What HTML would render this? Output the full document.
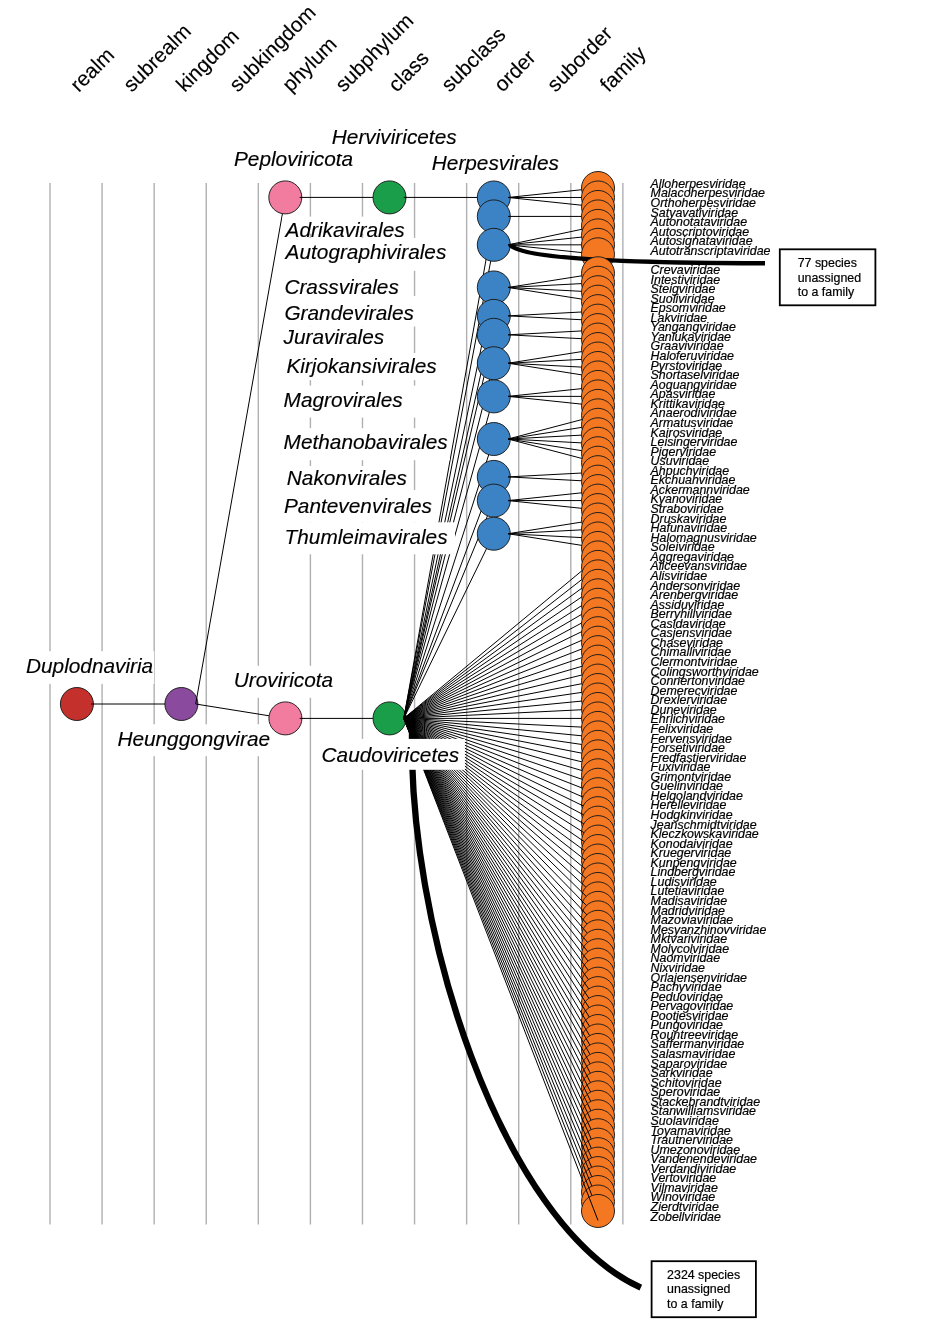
<!DOCTYPE html>
<html lang="en">
<head>
<meta charset="utf-8">
<title>Duplodnaviria taxonomy</title>
<style>
html,body{margin:0;padding:0;background:#fff;}
body{width:930px;height:1342px;overflow:hidden;}
svg{display:block;font-family:"Liberation Sans",Arial,Helvetica,sans-serif;}
</style>
</head>
<body>
<svg width="930" height="1342" viewBox="0 0 930 1342">
<rect width="930" height="1342" fill="#fff"/>
<g stroke="#b0b0b2" stroke-width="1.4">
<line x1="50" y1="183.1" x2="50" y2="1224.6"/>
<line x1="102.08" y1="183.1" x2="102.08" y2="1224.6"/>
<line x1="154.16" y1="183.1" x2="154.16" y2="1224.6"/>
<line x1="206.24" y1="183.1" x2="206.24" y2="1224.6"/>
<line x1="258.32" y1="183.1" x2="258.32" y2="1224.6"/>
<line x1="310.4" y1="183.1" x2="310.4" y2="1224.6"/>
<line x1="362.48" y1="183.1" x2="362.48" y2="1224.6"/>
<line x1="414.56" y1="183.1" x2="414.56" y2="1224.6"/>
<line x1="466.64" y1="183.1" x2="466.64" y2="1224.6"/>
<line x1="518.72" y1="183.1" x2="518.72" y2="1224.6"/>
<line x1="570.8" y1="183.1" x2="570.8" y2="1224.6"/>
<line x1="622.88" y1="183.1" x2="622.88" y2="1224.6"/>
</g>
<g font-size="20.8" fill="#000" stroke="#000" stroke-width="0.15">
<text transform="translate(78.7 93) rotate(-45)">realm</text>
<text transform="translate(131.69 93) rotate(-45)">subrealm</text>
<text transform="translate(184.68 93) rotate(-45)">kingdom</text>
<text transform="translate(237.67 93) rotate(-45)">subkingdom</text>
<text transform="translate(290.66 93) rotate(-45)">phylum</text>
<text transform="translate(343.65 93) rotate(-45)">subphylum</text>
<text transform="translate(396.64 93) rotate(-45)">class</text>
<text transform="translate(449.63 93) rotate(-45)">subclass</text>
<text transform="translate(502.62 93) rotate(-45)">order</text>
<text transform="translate(555.61 93) rotate(-45)">suborder</text>
<text transform="translate(608.6 93) rotate(-45)">family</text>
</g>
<g id="tree">
<circle cx="76.9" cy="704" r="16.5" fill="#c4302b" stroke="#1a1a1a" stroke-width="0.95"/>
<line x1="91.2" y1="704" x2="181.4" y2="704" stroke="#000" stroke-width="1"/>
<circle cx="181.4" cy="704" r="16.5" fill="#8a4a9e" stroke="#1a1a1a" stroke-width="0.95"/>
<line x1="195.7" y1="704" x2="285.3" y2="197.4" stroke="#000" stroke-width="1"/>
<circle cx="285.3" cy="197.4" r="16.5" fill="#f17ca0" stroke="#1a1a1a" stroke-width="0.95"/>
<line x1="299.6" y1="197.4" x2="389.5" y2="197.4" stroke="#000" stroke-width="1"/>
<circle cx="389.5" cy="197.4" r="16.5" fill="#1a9e49" stroke="#1a1a1a" stroke-width="0.95"/>
<line x1="403.8" y1="197.4" x2="493.8" y2="197.47" stroke="#000" stroke-width="1"/>
<circle cx="493.8" cy="197.47" r="16.5" fill="#3b83c4" stroke="#1a1a1a" stroke-width="0.95"/>
<line x1="508.1" y1="197.47" x2="598" y2="188" stroke="#000" stroke-width="1"/>
<circle cx="598" cy="188" r="16.5" fill="#f47721" stroke="#1a1a1a" stroke-width="0.95"/>
<line x1="508.1" y1="197.47" x2="598" y2="197.47" stroke="#000" stroke-width="1"/>
<circle cx="598" cy="197.47" r="16.5" fill="#f47721" stroke="#1a1a1a" stroke-width="0.95"/>
<line x1="508.1" y1="197.47" x2="598" y2="206.94" stroke="#000" stroke-width="1"/>
<circle cx="598" cy="206.94" r="16.5" fill="#f47721" stroke="#1a1a1a" stroke-width="0.95"/>
<line x1="195.7" y1="704" x2="285.4" y2="718.4" stroke="#000" stroke-width="1"/>
<circle cx="285.4" cy="718.4" r="16.5" fill="#f17ca0" stroke="#1a1a1a" stroke-width="0.95"/>
<line x1="299.7" y1="718.4" x2="389.5" y2="718.4" stroke="#000" stroke-width="1"/>
<circle cx="389.5" cy="718.4" r="16.5" fill="#1a9e49" stroke="#1a1a1a" stroke-width="0.95"/>
<line x1="403.8" y1="718.4" x2="493.8" y2="216.42" stroke="#000" stroke-width="1"/>
<circle cx="493.8" cy="216.42" r="16.5" fill="#3b83c4" stroke="#1a1a1a" stroke-width="0.95"/>
<line x1="508.1" y1="216.42" x2="598" y2="216.42" stroke="#000" stroke-width="1"/>
<circle cx="598" cy="216.42" r="16.5" fill="#f47721" stroke="#1a1a1a" stroke-width="0.95"/>
<line x1="403.8" y1="718.4" x2="493.8" y2="244.83" stroke="#000" stroke-width="1"/>
<circle cx="493.8" cy="244.83" r="16.5" fill="#3b83c4" stroke="#1a1a1a" stroke-width="0.95"/>
<line x1="508.1" y1="244.83" x2="598" y2="225.89" stroke="#000" stroke-width="1"/>
<circle cx="598" cy="225.89" r="16.5" fill="#f47721" stroke="#1a1a1a" stroke-width="0.95"/>
<line x1="508.1" y1="244.83" x2="598" y2="235.36" stroke="#000" stroke-width="1"/>
<circle cx="598" cy="235.36" r="16.5" fill="#f47721" stroke="#1a1a1a" stroke-width="0.95"/>
<line x1="508.1" y1="244.83" x2="598" y2="244.83" stroke="#000" stroke-width="1"/>
<circle cx="598" cy="244.83" r="16.5" fill="#f47721" stroke="#1a1a1a" stroke-width="0.95"/>
<line x1="508.1" y1="244.83" x2="598" y2="254.3" stroke="#000" stroke-width="1"/>
<circle cx="598" cy="254.3" r="16.5" fill="#f47721" stroke="#1a1a1a" stroke-width="0.95"/>
<path d="M510.3 244.83 Q524.3 263.2 765 263.2" fill="none" stroke="#000" stroke-width="4.5"/>
<line x1="403.8" y1="718.4" x2="493.8" y2="287.46" stroke="#000" stroke-width="1"/>
<circle cx="493.8" cy="287.46" r="16.5" fill="#3b83c4" stroke="#1a1a1a" stroke-width="0.95"/>
<line x1="508.1" y1="287.46" x2="598" y2="273.25" stroke="#000" stroke-width="1"/>
<circle cx="598" cy="273.25" r="16.5" fill="#f47721" stroke="#1a1a1a" stroke-width="0.95"/>
<line x1="508.1" y1="287.46" x2="598" y2="282.72" stroke="#000" stroke-width="1"/>
<circle cx="598" cy="282.72" r="16.5" fill="#f47721" stroke="#1a1a1a" stroke-width="0.95"/>
<line x1="508.1" y1="287.46" x2="598" y2="292.19" stroke="#000" stroke-width="1"/>
<circle cx="598" cy="292.19" r="16.5" fill="#f47721" stroke="#1a1a1a" stroke-width="0.95"/>
<line x1="508.1" y1="287.46" x2="598" y2="301.66" stroke="#000" stroke-width="1"/>
<circle cx="598" cy="301.66" r="16.5" fill="#f47721" stroke="#1a1a1a" stroke-width="0.95"/>
<line x1="403.8" y1="718.4" x2="493.8" y2="315.87" stroke="#000" stroke-width="1"/>
<circle cx="493.8" cy="315.87" r="16.5" fill="#3b83c4" stroke="#1a1a1a" stroke-width="0.95"/>
<line x1="508.1" y1="315.87" x2="598" y2="311.14" stroke="#000" stroke-width="1"/>
<circle cx="598" cy="311.14" r="16.5" fill="#f47721" stroke="#1a1a1a" stroke-width="0.95"/>
<line x1="508.1" y1="315.87" x2="598" y2="320.61" stroke="#000" stroke-width="1"/>
<circle cx="598" cy="320.61" r="16.5" fill="#f47721" stroke="#1a1a1a" stroke-width="0.95"/>
<line x1="403.8" y1="718.4" x2="493.8" y2="334.82" stroke="#000" stroke-width="1"/>
<circle cx="493.8" cy="334.82" r="16.5" fill="#3b83c4" stroke="#1a1a1a" stroke-width="0.95"/>
<line x1="508.1" y1="334.82" x2="598" y2="330.08" stroke="#000" stroke-width="1"/>
<circle cx="598" cy="330.08" r="16.5" fill="#f47721" stroke="#1a1a1a" stroke-width="0.95"/>
<line x1="508.1" y1="334.82" x2="598" y2="339.55" stroke="#000" stroke-width="1"/>
<circle cx="598" cy="339.55" r="16.5" fill="#f47721" stroke="#1a1a1a" stroke-width="0.95"/>
<line x1="403.8" y1="718.4" x2="493.8" y2="363.23" stroke="#000" stroke-width="1"/>
<circle cx="493.8" cy="363.23" r="16.5" fill="#3b83c4" stroke="#1a1a1a" stroke-width="0.95"/>
<line x1="508.1" y1="363.23" x2="598" y2="349.02" stroke="#000" stroke-width="1"/>
<circle cx="598" cy="349.02" r="16.5" fill="#f47721" stroke="#1a1a1a" stroke-width="0.95"/>
<line x1="508.1" y1="363.23" x2="598" y2="358.5" stroke="#000" stroke-width="1"/>
<circle cx="598" cy="358.5" r="16.5" fill="#f47721" stroke="#1a1a1a" stroke-width="0.95"/>
<line x1="508.1" y1="363.23" x2="598" y2="367.97" stroke="#000" stroke-width="1"/>
<circle cx="598" cy="367.97" r="16.5" fill="#f47721" stroke="#1a1a1a" stroke-width="0.95"/>
<line x1="508.1" y1="363.23" x2="598" y2="377.44" stroke="#000" stroke-width="1"/>
<circle cx="598" cy="377.44" r="16.5" fill="#f47721" stroke="#1a1a1a" stroke-width="0.95"/>
<line x1="403.8" y1="718.4" x2="493.8" y2="396.38" stroke="#000" stroke-width="1"/>
<circle cx="493.8" cy="396.38" r="16.5" fill="#3b83c4" stroke="#1a1a1a" stroke-width="0.95"/>
<line x1="508.1" y1="396.38" x2="598" y2="386.91" stroke="#000" stroke-width="1"/>
<circle cx="598" cy="386.91" r="16.5" fill="#f47721" stroke="#1a1a1a" stroke-width="0.95"/>
<line x1="508.1" y1="396.38" x2="598" y2="396.38" stroke="#000" stroke-width="1"/>
<circle cx="598" cy="396.38" r="16.5" fill="#f47721" stroke="#1a1a1a" stroke-width="0.95"/>
<line x1="508.1" y1="396.38" x2="598" y2="405.86" stroke="#000" stroke-width="1"/>
<circle cx="598" cy="405.86" r="16.5" fill="#f47721" stroke="#1a1a1a" stroke-width="0.95"/>
<line x1="403.8" y1="718.4" x2="493.8" y2="439.01" stroke="#000" stroke-width="1"/>
<circle cx="493.8" cy="439.01" r="16.5" fill="#3b83c4" stroke="#1a1a1a" stroke-width="0.95"/>
<line x1="508.1" y1="439.01" x2="598" y2="415.33" stroke="#000" stroke-width="1"/>
<circle cx="598" cy="415.33" r="16.5" fill="#f47721" stroke="#1a1a1a" stroke-width="0.95"/>
<line x1="508.1" y1="439.01" x2="598" y2="424.8" stroke="#000" stroke-width="1"/>
<circle cx="598" cy="424.8" r="16.5" fill="#f47721" stroke="#1a1a1a" stroke-width="0.95"/>
<line x1="508.1" y1="439.01" x2="598" y2="434.27" stroke="#000" stroke-width="1"/>
<circle cx="598" cy="434.27" r="16.5" fill="#f47721" stroke="#1a1a1a" stroke-width="0.95"/>
<line x1="508.1" y1="439.01" x2="598" y2="443.74" stroke="#000" stroke-width="1"/>
<circle cx="598" cy="443.74" r="16.5" fill="#f47721" stroke="#1a1a1a" stroke-width="0.95"/>
<line x1="508.1" y1="439.01" x2="598" y2="453.22" stroke="#000" stroke-width="1"/>
<circle cx="598" cy="453.22" r="16.5" fill="#f47721" stroke="#1a1a1a" stroke-width="0.95"/>
<line x1="508.1" y1="439.01" x2="598" y2="462.69" stroke="#000" stroke-width="1"/>
<circle cx="598" cy="462.69" r="16.5" fill="#f47721" stroke="#1a1a1a" stroke-width="0.95"/>
<line x1="403.8" y1="718.4" x2="493.8" y2="476.9" stroke="#000" stroke-width="1"/>
<circle cx="493.8" cy="476.9" r="16.5" fill="#3b83c4" stroke="#1a1a1a" stroke-width="0.95"/>
<line x1="508.1" y1="476.9" x2="598" y2="472.16" stroke="#000" stroke-width="1"/>
<circle cx="598" cy="472.16" r="16.5" fill="#f47721" stroke="#1a1a1a" stroke-width="0.95"/>
<line x1="508.1" y1="476.9" x2="598" y2="481.63" stroke="#000" stroke-width="1"/>
<circle cx="598" cy="481.63" r="16.5" fill="#f47721" stroke="#1a1a1a" stroke-width="0.95"/>
<line x1="403.8" y1="718.4" x2="493.8" y2="500.58" stroke="#000" stroke-width="1"/>
<circle cx="493.8" cy="500.58" r="16.5" fill="#3b83c4" stroke="#1a1a1a" stroke-width="0.95"/>
<line x1="508.1" y1="500.58" x2="598" y2="491.1" stroke="#000" stroke-width="1"/>
<circle cx="598" cy="491.1" r="16.5" fill="#f47721" stroke="#1a1a1a" stroke-width="0.95"/>
<line x1="508.1" y1="500.58" x2="598" y2="500.58" stroke="#000" stroke-width="1"/>
<circle cx="598" cy="500.58" r="16.5" fill="#f47721" stroke="#1a1a1a" stroke-width="0.95"/>
<line x1="508.1" y1="500.58" x2="598" y2="510.05" stroke="#000" stroke-width="1"/>
<circle cx="598" cy="510.05" r="16.5" fill="#f47721" stroke="#1a1a1a" stroke-width="0.95"/>
<line x1="403.8" y1="718.4" x2="493.8" y2="533.73" stroke="#000" stroke-width="1"/>
<circle cx="493.8" cy="533.73" r="16.5" fill="#3b83c4" stroke="#1a1a1a" stroke-width="0.95"/>
<line x1="508.1" y1="533.73" x2="598" y2="519.52" stroke="#000" stroke-width="1"/>
<circle cx="598" cy="519.52" r="16.5" fill="#f47721" stroke="#1a1a1a" stroke-width="0.95"/>
<line x1="508.1" y1="533.73" x2="598" y2="528.99" stroke="#000" stroke-width="1"/>
<circle cx="598" cy="528.99" r="16.5" fill="#f47721" stroke="#1a1a1a" stroke-width="0.95"/>
<line x1="508.1" y1="533.73" x2="598" y2="538.46" stroke="#000" stroke-width="1"/>
<circle cx="598" cy="538.46" r="16.5" fill="#f47721" stroke="#1a1a1a" stroke-width="0.95"/>
<line x1="508.1" y1="533.73" x2="598" y2="547.94" stroke="#000" stroke-width="1"/>
<circle cx="598" cy="547.94" r="16.5" fill="#f47721" stroke="#1a1a1a" stroke-width="0.95"/>
<line x1="403.8" y1="718.4" x2="598" y2="557.41" stroke="#000" stroke-width="1"/>
<circle cx="598" cy="557.41" r="16.5" fill="#f47721" stroke="#1a1a1a" stroke-width="0.95"/>
<line x1="403.8" y1="718.4" x2="598" y2="566.88" stroke="#000" stroke-width="1"/>
<circle cx="598" cy="566.88" r="16.5" fill="#f47721" stroke="#1a1a1a" stroke-width="0.95"/>
<line x1="403.8" y1="718.4" x2="598" y2="576.35" stroke="#000" stroke-width="1"/>
<circle cx="598" cy="576.35" r="16.5" fill="#f47721" stroke="#1a1a1a" stroke-width="0.95"/>
<line x1="403.8" y1="718.4" x2="598" y2="585.82" stroke="#000" stroke-width="1"/>
<circle cx="598" cy="585.82" r="16.5" fill="#f47721" stroke="#1a1a1a" stroke-width="0.95"/>
<line x1="403.8" y1="718.4" x2="598" y2="595.3" stroke="#000" stroke-width="1"/>
<circle cx="598" cy="595.3" r="16.5" fill="#f47721" stroke="#1a1a1a" stroke-width="0.95"/>
<line x1="403.8" y1="718.4" x2="598" y2="604.77" stroke="#000" stroke-width="1"/>
<circle cx="598" cy="604.77" r="16.5" fill="#f47721" stroke="#1a1a1a" stroke-width="0.95"/>
<line x1="403.8" y1="718.4" x2="598" y2="614.24" stroke="#000" stroke-width="1"/>
<circle cx="598" cy="614.24" r="16.5" fill="#f47721" stroke="#1a1a1a" stroke-width="0.95"/>
<line x1="403.8" y1="718.4" x2="598" y2="623.71" stroke="#000" stroke-width="1"/>
<circle cx="598" cy="623.71" r="16.5" fill="#f47721" stroke="#1a1a1a" stroke-width="0.95"/>
<line x1="403.8" y1="718.4" x2="598" y2="633.18" stroke="#000" stroke-width="1"/>
<circle cx="598" cy="633.18" r="16.5" fill="#f47721" stroke="#1a1a1a" stroke-width="0.95"/>
<line x1="403.8" y1="718.4" x2="598" y2="642.66" stroke="#000" stroke-width="1"/>
<circle cx="598" cy="642.66" r="16.5" fill="#f47721" stroke="#1a1a1a" stroke-width="0.95"/>
<line x1="403.8" y1="718.4" x2="598" y2="652.13" stroke="#000" stroke-width="1"/>
<circle cx="598" cy="652.13" r="16.5" fill="#f47721" stroke="#1a1a1a" stroke-width="0.95"/>
<line x1="403.8" y1="718.4" x2="598" y2="661.6" stroke="#000" stroke-width="1"/>
<circle cx="598" cy="661.6" r="16.5" fill="#f47721" stroke="#1a1a1a" stroke-width="0.95"/>
<line x1="403.8" y1="718.4" x2="598" y2="671.07" stroke="#000" stroke-width="1"/>
<circle cx="598" cy="671.07" r="16.5" fill="#f47721" stroke="#1a1a1a" stroke-width="0.95"/>
<line x1="403.8" y1="718.4" x2="598" y2="680.54" stroke="#000" stroke-width="1"/>
<circle cx="598" cy="680.54" r="16.5" fill="#f47721" stroke="#1a1a1a" stroke-width="0.95"/>
<line x1="403.8" y1="718.4" x2="598" y2="690.02" stroke="#000" stroke-width="1"/>
<circle cx="598" cy="690.02" r="16.5" fill="#f47721" stroke="#1a1a1a" stroke-width="0.95"/>
<line x1="403.8" y1="718.4" x2="598" y2="699.49" stroke="#000" stroke-width="1"/>
<circle cx="598" cy="699.49" r="16.5" fill="#f47721" stroke="#1a1a1a" stroke-width="0.95"/>
<line x1="403.8" y1="718.4" x2="598" y2="708.96" stroke="#000" stroke-width="1"/>
<circle cx="598" cy="708.96" r="16.5" fill="#f47721" stroke="#1a1a1a" stroke-width="0.95"/>
<line x1="403.8" y1="718.4" x2="598" y2="718.43" stroke="#000" stroke-width="1"/>
<circle cx="598" cy="718.43" r="16.5" fill="#f47721" stroke="#1a1a1a" stroke-width="0.95"/>
<line x1="403.8" y1="718.4" x2="598" y2="727.9" stroke="#000" stroke-width="1"/>
<circle cx="598" cy="727.9" r="16.5" fill="#f47721" stroke="#1a1a1a" stroke-width="0.95"/>
<line x1="403.8" y1="718.4" x2="598" y2="737.38" stroke="#000" stroke-width="1"/>
<circle cx="598" cy="737.38" r="16.5" fill="#f47721" stroke="#1a1a1a" stroke-width="0.95"/>
<line x1="403.8" y1="718.4" x2="598" y2="746.85" stroke="#000" stroke-width="1"/>
<circle cx="598" cy="746.85" r="16.5" fill="#f47721" stroke="#1a1a1a" stroke-width="0.95"/>
<line x1="403.8" y1="718.4" x2="598" y2="756.32" stroke="#000" stroke-width="1"/>
<circle cx="598" cy="756.32" r="16.5" fill="#f47721" stroke="#1a1a1a" stroke-width="0.95"/>
<line x1="403.8" y1="718.4" x2="598" y2="765.79" stroke="#000" stroke-width="1"/>
<circle cx="598" cy="765.79" r="16.5" fill="#f47721" stroke="#1a1a1a" stroke-width="0.95"/>
<line x1="403.8" y1="718.4" x2="598" y2="775.26" stroke="#000" stroke-width="1"/>
<circle cx="598" cy="775.26" r="16.5" fill="#f47721" stroke="#1a1a1a" stroke-width="0.95"/>
<line x1="403.8" y1="718.4" x2="598" y2="784.74" stroke="#000" stroke-width="1"/>
<circle cx="598" cy="784.74" r="16.5" fill="#f47721" stroke="#1a1a1a" stroke-width="0.95"/>
<line x1="403.8" y1="718.4" x2="598" y2="794.21" stroke="#000" stroke-width="1"/>
<circle cx="598" cy="794.21" r="16.5" fill="#f47721" stroke="#1a1a1a" stroke-width="0.95"/>
<line x1="403.8" y1="718.4" x2="598" y2="803.68" stroke="#000" stroke-width="1"/>
<circle cx="598" cy="803.68" r="16.5" fill="#f47721" stroke="#1a1a1a" stroke-width="0.95"/>
<line x1="403.8" y1="718.4" x2="598" y2="813.15" stroke="#000" stroke-width="1"/>
<circle cx="598" cy="813.15" r="16.5" fill="#f47721" stroke="#1a1a1a" stroke-width="0.95"/>
<line x1="403.8" y1="718.4" x2="598" y2="822.62" stroke="#000" stroke-width="1"/>
<circle cx="598" cy="822.62" r="16.5" fill="#f47721" stroke="#1a1a1a" stroke-width="0.95"/>
<line x1="403.8" y1="718.4" x2="598" y2="832.1" stroke="#000" stroke-width="1"/>
<circle cx="598" cy="832.1" r="16.5" fill="#f47721" stroke="#1a1a1a" stroke-width="0.95"/>
<line x1="403.8" y1="718.4" x2="598" y2="841.57" stroke="#000" stroke-width="1"/>
<circle cx="598" cy="841.57" r="16.5" fill="#f47721" stroke="#1a1a1a" stroke-width="0.95"/>
<line x1="403.8" y1="718.4" x2="598" y2="851.04" stroke="#000" stroke-width="1"/>
<circle cx="598" cy="851.04" r="16.5" fill="#f47721" stroke="#1a1a1a" stroke-width="0.95"/>
<line x1="403.8" y1="718.4" x2="598" y2="860.51" stroke="#000" stroke-width="1"/>
<circle cx="598" cy="860.51" r="16.5" fill="#f47721" stroke="#1a1a1a" stroke-width="0.95"/>
<line x1="403.8" y1="718.4" x2="598" y2="869.98" stroke="#000" stroke-width="1"/>
<circle cx="598" cy="869.98" r="16.5" fill="#f47721" stroke="#1a1a1a" stroke-width="0.95"/>
<line x1="403.8" y1="718.4" x2="598" y2="879.46" stroke="#000" stroke-width="1"/>
<circle cx="598" cy="879.46" r="16.5" fill="#f47721" stroke="#1a1a1a" stroke-width="0.95"/>
<line x1="403.8" y1="718.4" x2="598" y2="888.93" stroke="#000" stroke-width="1"/>
<circle cx="598" cy="888.93" r="16.5" fill="#f47721" stroke="#1a1a1a" stroke-width="0.95"/>
<line x1="403.8" y1="718.4" x2="598" y2="898.4" stroke="#000" stroke-width="1"/>
<circle cx="598" cy="898.4" r="16.5" fill="#f47721" stroke="#1a1a1a" stroke-width="0.95"/>
<line x1="403.8" y1="718.4" x2="598" y2="907.87" stroke="#000" stroke-width="1"/>
<circle cx="598" cy="907.87" r="16.5" fill="#f47721" stroke="#1a1a1a" stroke-width="0.95"/>
<line x1="403.8" y1="718.4" x2="598" y2="917.34" stroke="#000" stroke-width="1"/>
<circle cx="598" cy="917.34" r="16.5" fill="#f47721" stroke="#1a1a1a" stroke-width="0.95"/>
<line x1="403.8" y1="718.4" x2="598" y2="926.82" stroke="#000" stroke-width="1"/>
<circle cx="598" cy="926.82" r="16.5" fill="#f47721" stroke="#1a1a1a" stroke-width="0.95"/>
<line x1="403.8" y1="718.4" x2="598" y2="936.29" stroke="#000" stroke-width="1"/>
<circle cx="598" cy="936.29" r="16.5" fill="#f47721" stroke="#1a1a1a" stroke-width="0.95"/>
<line x1="403.8" y1="718.4" x2="598" y2="945.76" stroke="#000" stroke-width="1"/>
<circle cx="598" cy="945.76" r="16.5" fill="#f47721" stroke="#1a1a1a" stroke-width="0.95"/>
<line x1="403.8" y1="718.4" x2="598" y2="955.23" stroke="#000" stroke-width="1"/>
<circle cx="598" cy="955.23" r="16.5" fill="#f47721" stroke="#1a1a1a" stroke-width="0.95"/>
<line x1="403.8" y1="718.4" x2="598" y2="964.7" stroke="#000" stroke-width="1"/>
<circle cx="598" cy="964.7" r="16.5" fill="#f47721" stroke="#1a1a1a" stroke-width="0.95"/>
<line x1="403.8" y1="718.4" x2="598" y2="974.18" stroke="#000" stroke-width="1"/>
<circle cx="598" cy="974.18" r="16.5" fill="#f47721" stroke="#1a1a1a" stroke-width="0.95"/>
<line x1="403.8" y1="718.4" x2="598" y2="983.65" stroke="#000" stroke-width="1"/>
<circle cx="598" cy="983.65" r="16.5" fill="#f47721" stroke="#1a1a1a" stroke-width="0.95"/>
<line x1="403.8" y1="718.4" x2="598" y2="993.12" stroke="#000" stroke-width="1"/>
<circle cx="598" cy="993.12" r="16.5" fill="#f47721" stroke="#1a1a1a" stroke-width="0.95"/>
<line x1="403.8" y1="718.4" x2="598" y2="1002.59" stroke="#000" stroke-width="1"/>
<circle cx="598" cy="1002.59" r="16.5" fill="#f47721" stroke="#1a1a1a" stroke-width="0.95"/>
<line x1="403.8" y1="718.4" x2="598" y2="1012.06" stroke="#000" stroke-width="1"/>
<circle cx="598" cy="1012.06" r="16.5" fill="#f47721" stroke="#1a1a1a" stroke-width="0.95"/>
<line x1="403.8" y1="718.4" x2="598" y2="1021.54" stroke="#000" stroke-width="1"/>
<circle cx="598" cy="1021.54" r="16.5" fill="#f47721" stroke="#1a1a1a" stroke-width="0.95"/>
<line x1="403.8" y1="718.4" x2="598" y2="1031.01" stroke="#000" stroke-width="1"/>
<circle cx="598" cy="1031.01" r="16.5" fill="#f47721" stroke="#1a1a1a" stroke-width="0.95"/>
<line x1="403.8" y1="718.4" x2="598" y2="1040.48" stroke="#000" stroke-width="1"/>
<circle cx="598" cy="1040.48" r="16.5" fill="#f47721" stroke="#1a1a1a" stroke-width="0.95"/>
<line x1="403.8" y1="718.4" x2="598" y2="1049.95" stroke="#000" stroke-width="1"/>
<circle cx="598" cy="1049.95" r="16.5" fill="#f47721" stroke="#1a1a1a" stroke-width="0.95"/>
<line x1="403.8" y1="718.4" x2="598" y2="1059.42" stroke="#000" stroke-width="1"/>
<circle cx="598" cy="1059.42" r="16.5" fill="#f47721" stroke="#1a1a1a" stroke-width="0.95"/>
<line x1="403.8" y1="718.4" x2="598" y2="1068.9" stroke="#000" stroke-width="1"/>
<circle cx="598" cy="1068.9" r="16.5" fill="#f47721" stroke="#1a1a1a" stroke-width="0.95"/>
<line x1="403.8" y1="718.4" x2="598" y2="1078.37" stroke="#000" stroke-width="1"/>
<circle cx="598" cy="1078.37" r="16.5" fill="#f47721" stroke="#1a1a1a" stroke-width="0.95"/>
<line x1="403.8" y1="718.4" x2="598" y2="1087.84" stroke="#000" stroke-width="1"/>
<circle cx="598" cy="1087.84" r="16.5" fill="#f47721" stroke="#1a1a1a" stroke-width="0.95"/>
<line x1="403.8" y1="718.4" x2="598" y2="1097.31" stroke="#000" stroke-width="1"/>
<circle cx="598" cy="1097.31" r="16.5" fill="#f47721" stroke="#1a1a1a" stroke-width="0.95"/>
<line x1="403.8" y1="718.4" x2="598" y2="1106.78" stroke="#000" stroke-width="1"/>
<circle cx="598" cy="1106.78" r="16.5" fill="#f47721" stroke="#1a1a1a" stroke-width="0.95"/>
<line x1="403.8" y1="718.4" x2="598" y2="1116.26" stroke="#000" stroke-width="1"/>
<circle cx="598" cy="1116.26" r="16.5" fill="#f47721" stroke="#1a1a1a" stroke-width="0.95"/>
<line x1="403.8" y1="718.4" x2="598" y2="1125.73" stroke="#000" stroke-width="1"/>
<circle cx="598" cy="1125.73" r="16.5" fill="#f47721" stroke="#1a1a1a" stroke-width="0.95"/>
<line x1="403.8" y1="718.4" x2="598" y2="1135.2" stroke="#000" stroke-width="1"/>
<circle cx="598" cy="1135.2" r="16.5" fill="#f47721" stroke="#1a1a1a" stroke-width="0.95"/>
<line x1="403.8" y1="718.4" x2="598" y2="1144.67" stroke="#000" stroke-width="1"/>
<circle cx="598" cy="1144.67" r="16.5" fill="#f47721" stroke="#1a1a1a" stroke-width="0.95"/>
<line x1="403.8" y1="718.4" x2="598" y2="1154.14" stroke="#000" stroke-width="1"/>
<circle cx="598" cy="1154.14" r="16.5" fill="#f47721" stroke="#1a1a1a" stroke-width="0.95"/>
<line x1="403.8" y1="718.4" x2="598" y2="1163.62" stroke="#000" stroke-width="1"/>
<circle cx="598" cy="1163.62" r="16.5" fill="#f47721" stroke="#1a1a1a" stroke-width="0.95"/>
<line x1="403.8" y1="718.4" x2="598" y2="1173.09" stroke="#000" stroke-width="1"/>
<circle cx="598" cy="1173.09" r="16.5" fill="#f47721" stroke="#1a1a1a" stroke-width="0.95"/>
<line x1="403.8" y1="718.4" x2="598" y2="1182.56" stroke="#000" stroke-width="1"/>
<circle cx="598" cy="1182.56" r="16.5" fill="#f47721" stroke="#1a1a1a" stroke-width="0.95"/>
<line x1="403.8" y1="718.4" x2="598" y2="1192.03" stroke="#000" stroke-width="1"/>
<circle cx="598" cy="1192.03" r="16.5" fill="#f47721" stroke="#1a1a1a" stroke-width="0.95"/>
<line x1="403.8" y1="718.4" x2="598" y2="1201.5" stroke="#000" stroke-width="1"/>
<circle cx="598" cy="1201.5" r="16.5" fill="#f47721" stroke="#1a1a1a" stroke-width="0.95"/>
<line x1="403.8" y1="718.4" x2="598" y2="1210.98" stroke="#000" stroke-width="1"/>
<circle cx="598" cy="1210.98" r="16.5" fill="#f47721" stroke="#1a1a1a" stroke-width="0.95"/>
<line x1="403.8" y1="718.4" x2="598" y2="1220.45" stroke="#000" stroke-width="1"/>
</g>
<path d="M412.4 718.4 C404.2 922.9 501 1224.4 640.8 1287.7" fill="none" stroke="#000" stroke-width="6.3"/>
<g id="biglabels" font-size="20.8" font-style="italic" fill="#000" stroke="#000" stroke-width="0.15">
<rect x="22" y="651.2" width="132.2" height="32.7" fill="#fff" stroke="none"/>
<text x="26" y="673">Duplodnaviria</text>
<rect x="112" y="724.3" width="157.6" height="31.9" fill="#fff" stroke="none"/>
<text x="117.4" y="746.1">Heunggongvirae</text>
<rect x="230" y="145" width="132" height="31" fill="#fff" stroke="none"/>
<text x="234" y="165.8">Peploviricota</text>
<rect x="230" y="665.8" width="106" height="32" fill="#fff" stroke="none"/>
<text x="233.8" y="687.2">Uroviricota</text>
<rect x="328" y="123" width="133" height="31" fill="#fff" stroke="none"/>
<text x="331.8" y="144.2">Herviviricetes</text>
<rect x="316" y="738.9" width="148.9" height="30.9" fill="#fff" stroke="none"/>
<text x="321.6" y="761.7">Caudoviricetes</text>
<rect x="428" y="149" width="134" height="31" fill="#fff" stroke="none"/>
<text x="431.8" y="170">Herpesvirales</text>
<rect x="282.5" y="216.6" width="127.5" height="17" fill="#fff" stroke="none"/>
<text x="285.6" y="236.5">Adrikavirales</text>
<rect x="282.5" y="237.9" width="169.5" height="32.9" fill="#fff" stroke="none"/>
<text x="285.6" y="258.5">Autographivirales</text>
<rect x="281" y="270.8" width="121" height="29.2" fill="#fff" stroke="none"/>
<text x="284.4" y="293.9">Crassvirales</text>
<rect x="281" y="296" width="136.5" height="30.5" fill="#fff" stroke="none"/>
<text x="284.4" y="319.6">Grandevirales</text>
<rect x="281" y="326.5" width="109" height="26.5" fill="#fff" stroke="none"/>
<text x="283.6" y="343.8">Juravirales</text>
<rect x="283" y="353" width="157" height="27.2" fill="#fff" stroke="none"/>
<text x="286.4" y="373.4">Kirjokansivirales</text>
<rect x="281" y="385.6" width="136.5" height="32" fill="#fff" stroke="none"/>
<text x="283.6" y="406.8">Magrovirales</text>
<rect x="281" y="428.2" width="169" height="32" fill="#fff" stroke="none"/>
<text x="283.6" y="448.7">Methanobavirales</text>
<rect x="283" y="466" width="127" height="29" fill="#fff" stroke="none"/>
<text x="286.8" y="485.1">Nakonvirales</text>
<rect x="281" y="490" width="155" height="32.3" fill="#fff" stroke="none"/>
<text x="284" y="513.3">Pantevenvirales</text>
<rect x="281" y="522.3" width="174" height="32" fill="#fff" stroke="none"/>
<text x="284.6" y="544.2">Thumleimavirales</text>
</g>
<g id="famlabels" font-size="12.4" font-style="italic" fill="#000" stroke="#000" stroke-width="0.2">
<text x="650.6" y="187.9">Alloherpesviridae</text>
<text x="650.6" y="197.46">Malacoherpesviridae</text>
<text x="650.6" y="207.02">Orthoherpesviridae</text>
<text x="650.6" y="216.59">Satyavativiridae</text>
<text x="650.6" y="226.15">Autonotataviridae</text>
<text x="650.6" y="235.71">Autoscriptoviridae</text>
<text x="650.6" y="245.27">Autosignataviridae</text>
<text x="650.6" y="254.83">Autotranscriptaviridae</text>
<text x="650.6" y="273.96">Crevaviridae</text>
<text x="650.6" y="283.52">Intestiviridae</text>
<text x="650.6" y="293.08">Steigviridae</text>
<text x="650.6" y="302.64">Suoliviridae</text>
<text x="650.6" y="312.21">Epsomviridae</text>
<text x="650.6" y="321.77">Lakviridae</text>
<text x="650.6" y="331.33">Yangangviridae</text>
<text x="650.6" y="340.89">Yanlukaviridae</text>
<text x="650.6" y="350.45">Graaviviridae</text>
<text x="650.6" y="360.02">Haloferuviridae</text>
<text x="650.6" y="369.58">Pyrstoviridae</text>
<text x="650.6" y="379.14">Shortaselviridae</text>
<text x="650.6" y="388.7">Aoguangviridae</text>
<text x="650.6" y="398.26">Apasviridae</text>
<text x="650.6" y="407.83">Krittikaviridae</text>
<text x="650.6" y="417.39">Anaerodiviridae</text>
<text x="650.6" y="426.95">Armatusviridae</text>
<text x="650.6" y="436.51">Kairosviridae</text>
<text x="650.6" y="446.07">Leisingerviridae</text>
<text x="650.6" y="455.64">Pigerviridae</text>
<text x="650.6" y="465.2">Usuviridae</text>
<text x="650.6" y="474.76">Ahpuchviridae</text>
<text x="650.6" y="484.32">Ekchuahviridae</text>
<text x="650.6" y="493.88">Ackermannviridae</text>
<text x="650.6" y="503.45">Kyanoviridae</text>
<text x="650.6" y="513.01">Straboviridae</text>
<text x="650.6" y="522.57">Druskaviridae</text>
<text x="650.6" y="532.13">Hafunaviridae</text>
<text x="650.6" y="541.69">Halomagnusviridae</text>
<text x="650.6" y="551.26">Soleiviridae</text>
<text x="650.6" y="560.82">Aggregaviridae</text>
<text x="650.6" y="570.38">Aliceevansviridae</text>
<text x="650.6" y="579.94">Alisviridae</text>
<text x="650.6" y="589.5">Andersonviridae</text>
<text x="650.6" y="599.07">Arenbergviridae</text>
<text x="650.6" y="608.63">Assiduviridae</text>
<text x="650.6" y="618.19">Berryhillviridae</text>
<text x="650.6" y="627.75">Casidaviridae</text>
<text x="650.6" y="637.31">Casjensviridae</text>
<text x="650.6" y="646.88">Chaseviridae</text>
<text x="650.6" y="656.44">Chimalliviridae</text>
<text x="650.6" y="666">Clermontviridae</text>
<text x="650.6" y="675.56">Colingsworthviridae</text>
<text x="650.6" y="685.12">Connertonviridae</text>
<text x="650.6" y="694.69">Demerecviridae</text>
<text x="650.6" y="704.25">Drexlerviridae</text>
<text x="650.6" y="713.81">Duneviridae</text>
<text x="650.6" y="723.37">Ehrlichviridae</text>
<text x="650.6" y="732.93">Felixviridae</text>
<text x="650.6" y="742.5">Fervensviridae</text>
<text x="650.6" y="752.06">Forsetiviridae</text>
<text x="650.6" y="761.62">Fredfastierviridae</text>
<text x="650.6" y="771.18">Fuxiviridae</text>
<text x="650.6" y="780.74">Grimontviridae</text>
<text x="650.6" y="790.31">Guelinviridae</text>
<text x="650.6" y="799.87">Helgolandviridae</text>
<text x="650.6" y="809.43">Herelleviridae</text>
<text x="650.6" y="818.99">Hodgkinviridae</text>
<text x="650.6" y="828.55">Jeanschmidtviridae</text>
<text x="650.6" y="838.12">Kleczkowskaviridae</text>
<text x="650.6" y="847.68">Konodaiviridae</text>
<text x="650.6" y="857.24">Kruegerviridae</text>
<text x="650.6" y="866.8">Kunpengviridae</text>
<text x="650.6" y="876.36">Lindbergviridae</text>
<text x="650.6" y="885.93">Ludisviridae</text>
<text x="650.6" y="895.49">Lutetiaviridae</text>
<text x="650.6" y="905.05">Madisaviridae</text>
<text x="650.6" y="914.61">Madridviridae</text>
<text x="650.6" y="924.17">Mazoviaviridae</text>
<text x="650.6" y="933.74">Mesyanzhinovviridae</text>
<text x="650.6" y="943.3">Mktvariviridae</text>
<text x="650.6" y="952.86">Molycolviridae</text>
<text x="650.6" y="962.42">Naomviridae</text>
<text x="650.6" y="971.98">Nixviridae</text>
<text x="650.6" y="981.55">Orlajensenviridae</text>
<text x="650.6" y="991.11">Pachyviridae</text>
<text x="650.6" y="1000.67">Peduoviridae</text>
<text x="650.6" y="1010.23">Pervagoviridae</text>
<text x="650.6" y="1019.79">Pootjesviridae</text>
<text x="650.6" y="1029.36">Pungoviridae</text>
<text x="650.6" y="1038.92">Rountreeviridae</text>
<text x="650.6" y="1048.48">Saffermanviridae</text>
<text x="650.6" y="1058.04">Salasmaviridae</text>
<text x="650.6" y="1067.6">Saparoviridae</text>
<text x="650.6" y="1077.17">Sarkviridae</text>
<text x="650.6" y="1086.73">Schitoviridae</text>
<text x="650.6" y="1096.29">Speroviridae</text>
<text x="650.6" y="1105.85">Stackebrandtviridae</text>
<text x="650.6" y="1115.41">Stanwilliamsviridae</text>
<text x="650.6" y="1124.98">Suolaviridae</text>
<text x="650.6" y="1134.54">Toyamaviridae</text>
<text x="650.6" y="1144.1">Trautnerviridae</text>
<text x="650.6" y="1153.66">Umezonoviridae</text>
<text x="650.6" y="1163.22">Vandenendeviridae</text>
<text x="650.6" y="1172.79">Verdandiviridae</text>
<text x="650.6" y="1182.35">Vertoviridae</text>
<text x="650.6" y="1191.91">Vilmaviridae</text>
<text x="650.6" y="1201.47">Winoviridae</text>
<text x="650.6" y="1211.03">Zierdtviridae</text>
<text x="650.6" y="1220.6">Zobellviridae</text>
</g>
<rect x="779.8" y="249.3" width="95.6" height="56" fill="#fff" stroke="#000" stroke-width="1.8"/>
<text font-size="12.4" fill="#000" stroke="#000" stroke-width="0.2">
<tspan x="797.7" y="267">77 species</tspan>
<tspan x="797.7" y="281.7">unassigned</tspan>
<tspan x="797.7" y="296.4">to a family</tspan>
</text>
<rect x="651.6" y="1261.2" width="104.3" height="56" fill="#fff" stroke="#000" stroke-width="1.8"/>
<text font-size="12.4" fill="#000" stroke="#000" stroke-width="0.2">
<tspan x="667.1" y="1278.7">2324 species</tspan>
<tspan x="667.1" y="1293.4">unassigned</tspan>
<tspan x="667.1" y="1308.1">to a family</tspan>
</text>
</svg>
</body>
</html>
